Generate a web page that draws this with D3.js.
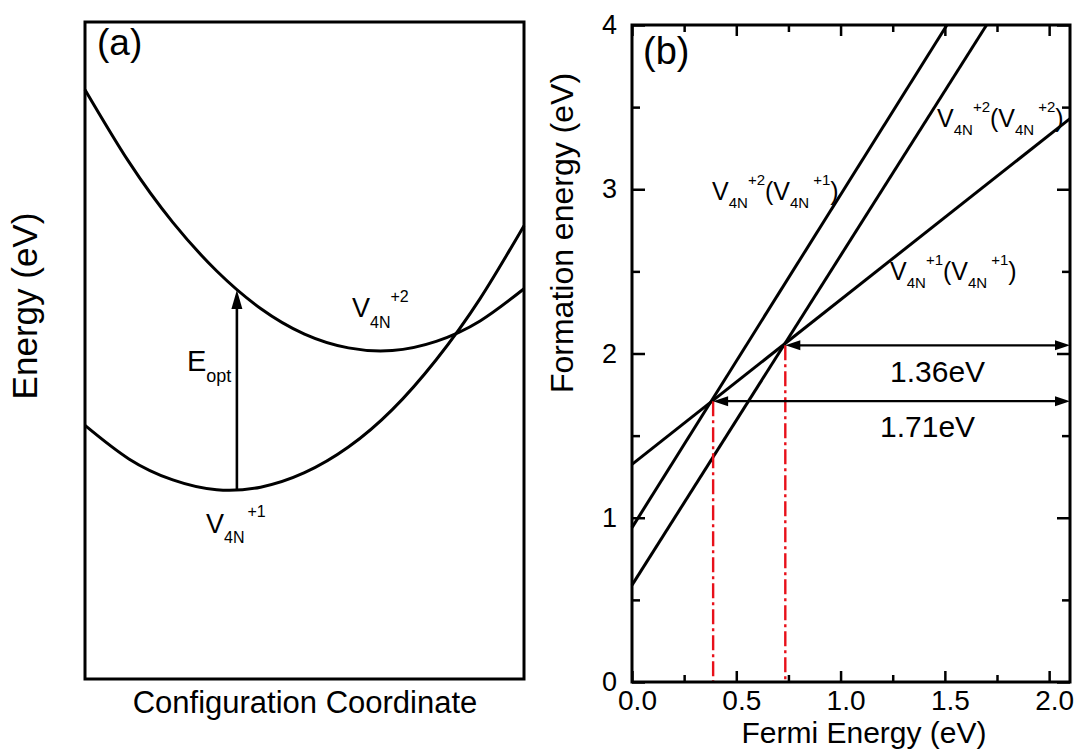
<!DOCTYPE html>
<html>
<head>
<meta charset="utf-8">
<script src="https://cdn.jsdelivr.net/npm/d3@7"></script>
<style>
  html, body { margin: 0; padding: 0; background: #fff; }
  svg { display: block; font-family: "Liberation Sans", Arial, sans-serif; }
</style>
</head>
<body>
<svg id="chart" width="1080" height="756"></svg>
<script>
// ---------- Panel (a): configuration coordinate diagram ----------
const coordA = [0, 1, 2, 3, 4, 5, 6, 7, 8, 9, 10];
const energyV1 = [3.86, 3.35, 3.03, 2.88, 2.92, 3.14, 3.53, 4.10, 4.86, 5.79, 6.90];
const energyV2 = [8.97, 7.87, 6.95, 6.21, 5.64, 5.25, 5.04, 5.00, 5.14, 5.45, 5.94];
const eoptCoord = [3.46];
const eoptEnergy = [2.88, 5.92];

// ---------- Panel (b): formation energy vs Fermi energy ----------
const fermiTicks = [0, 0.5, 1.0, 1.5, 2.0];
const fermiMinorTicks = [0.25, 0.75, 1.25, 1.75];
const formationTicks = [0, 1, 2, 3, 4];
const formationMinorTicks = [0.5, 1.5, 2.5, 3.5];
const fermiV1V1 = [0, 2.1];
const formV1V1 = [1.325, 3.43];
const fermiV2V1 = [0, 1.51];
const formV2V1 = [0.94, 4.0];
const fermiV2V2 = [0, 1.70];
const formV2V2 = [0.59, 4.0];
const transitionFermi = [0.389, 0.735];
const transitionForm = [1.71, 2.05];
const gapLabels = ["1.71eV", "1.36eV"];

const svg = d3.select("#chart");
svg.append("rect").attr("width", 1080).attr("height", 756).attr("fill", "#fff");

// ===== Panel (a) =====
const xa = d3.scaleLinear().domain([0, 10]).range([85, 524]);
const ya = d3.scaleLinear().domain([0, 10]).range([679, 22]);
const ga = svg.append("g");

const lineA = d3.line().x(d => xa(d[0])).y(d => ya(d[1])).curve(d3.curveNatural);
ga.append("path").datum(d3.zip(coordA, energyV1)).attr("d", lineA)
  .attr("fill", "none").attr("stroke", "#000").attr("stroke-width", 3);
ga.append("path").datum(d3.zip(coordA, energyV2)).attr("d", lineA)
  .attr("fill", "none").attr("stroke", "#000").attr("stroke-width", 3);

// E_opt arrow
const ax0 = xa(eoptCoord[0]), ay0 = ya(eoptEnergy[0]), ay1 = ya(eoptEnergy[1]);
ga.append("line").attr("x1", ax0).attr("x2", ax0).attr("y1", ay0).attr("y2", ay1 + 16)
  .attr("stroke", "#000").attr("stroke-width", 2.6);
ga.append("path").attr("d", `M${ax0},${ay1} L${ax0 - 5.5},${ay1 + 19} L${ax0 + 5.5},${ay1 + 19} Z`)
  .attr("fill", "#000");

ga.append("rect").attr("x", 85).attr("y", 22).attr("width", 439).attr("height", 657)
  .attr("fill", "none").attr("stroke", "#000").attr("stroke-width", 3);

ga.append("text").attr("x", 97).attr("y", 55).attr("font-size", 37).text("(a)");

function chargeLabel(g, x, y, big, small, sub, sup, subDy, supDy) {
  const t = g.append("text").attr("x", x).attr("y", y).attr("font-size", big);
  t.append("tspan").text("V");
  t.append("tspan").attr("font-size", small).attr("dy", subDy).text(sub);
  t.append("tspan").attr("font-size", small).attr("dy", supDy - subDy).text(sup);
  return t;
}
chargeLabel(ga, 352, 317, 27, 16, "4N", "+2", 11, -15);
chargeLabel(ga, 206, 533, 27, 16, "4N", "+1", 10, -16).select("tspan:nth-child(3)").attr("dx", 3);
{
  const t = ga.append("text").attr("x", 187).attr("y", 371).attr("font-size", 29);
  t.append("tspan").text("E");
  t.append("tspan").attr("font-size", 18).attr("dy", 11).text("opt");
}
ga.append("text").attr("x", 305).attr("y", 713).attr("font-size", 31)
  .attr("text-anchor", "middle").text("Configuration Coordinate");
ga.append("text").attr("transform", "translate(37,306) rotate(-90)").attr("font-size", 35)
  .attr("text-anchor", "middle").text("Energy (eV)");

// ===== Panel (b) =====
const xb = d3.scaleLinear().domain([0, 2.1]).range([632, 1070]);
const yb = d3.scaleLinear().domain([0, 4]).range([682, 25]);
const gb = svg.append("g");

function styleAxis(g) {
  g.select(".domain").remove();
  g.selectAll("line").attr("stroke", "#000").attr("stroke-width", 2.5);
  g.selectAll("text").attr("font-family", "Liberation Sans, Arial, sans-serif").attr("fill", "#000");
}
// bottom
gb.append("g").attr("transform", "translate(0,682)")
  .call(d3.axisBottom(xb).tickValues(fermiTicks).tickSize(-11).tickPadding(8).tickFormat(d3.format(".1f")))
  .call(styleAxis)
  .call(g => g.selectAll("text").attr("font-size", 28).attr("dx", 5));
gb.append("g").attr("transform", "translate(0,682)")
  .call(d3.axisBottom(xb).tickValues(fermiMinorTicks).tickSize(-7).tickFormat(""))
  .call(styleAxis);
// top
gb.append("g").attr("transform", "translate(0,25)")
  .call(d3.axisTop(xb).tickValues(fermiTicks).tickSize(-11).tickFormat(""))
  .call(styleAxis);
gb.append("g").attr("transform", "translate(0,25)")
  .call(d3.axisTop(xb).tickValues(fermiMinorTicks).tickSize(-7).tickFormat(""))
  .call(styleAxis);
// left
gb.append("g").attr("transform", "translate(632,0)")
  .call(d3.axisLeft(yb).tickValues(formationTicks).tickSize(-13).tickPadding(15).tickFormat(d3.format("d")))
  .call(styleAxis)
  .call(g => g.selectAll("text").attr("font-size", 27));
gb.append("g").attr("transform", "translate(632,0)")
  .call(d3.axisLeft(yb).tickValues(formationMinorTicks).tickSize(-8).tickFormat(""))
  .call(styleAxis);
// right
gb.append("g").attr("transform", "translate(1070,0)")
  .call(d3.axisRight(yb).tickValues(formationTicks).tickSize(-13).tickFormat(""))
  .call(styleAxis);
gb.append("g").attr("transform", "translate(1070,0)")
  .call(d3.axisRight(yb).tickValues(formationMinorTicks).tickSize(-8).tickFormat(""))
  .call(styleAxis);

// lines
const lineB = d3.line().x(d => xb(d[0])).y(d => yb(d[1]));
[[fermiV1V1, formV1V1], [fermiV2V1, formV2V1], [fermiV2V2, formV2V2]].forEach(([fx, fy]) => {
  gb.append("path").datum(d3.zip(fx, fy)).attr("d", lineB)
    .attr("fill", "none").attr("stroke", "#000").attr("stroke-width", 3);
});

// red dash-dot drop lines
transitionFermi.forEach((f, i) => {
  gb.append("line").attr("x1", xb(f)).attr("x2", xb(f))
    .attr("y1", yb(transitionForm[i])).attr("y2", yb(0))
    .attr("stroke", "#e8101a").attr("stroke-width", 2.4)
    .attr("stroke-dasharray", "15,4,3,4");
});

// double-headed arrows
transitionFermi.forEach((f, i) => {
  const xl = xb(f), xr = xb(2.1), y = yb(transitionForm[i]);
  gb.append("line").attr("x1", xl + 10).attr("x2", xr - 10).attr("y1", y).attr("y2", y)
    .attr("stroke", "#000").attr("stroke-width", 2.2);
  gb.append("path").attr("d", `M${xl},${y} L${xl + 15},${y - 5} L${xl + 15},${y + 5} Z`).attr("fill", "#000");
  gb.append("path").attr("d", `M${xr},${y} L${xr - 15},${y - 5} L${xr - 15},${y + 5} Z`).attr("fill", "#000");
});
gb.append("text").attr("x", 880).attr("y", 437).attr("font-size", 30).text(gapLabels[0]);
gb.append("text").attr("x", 890).attr("y", 382).attr("font-size", 30).text(gapLabels[1]);

// frame
gb.append("rect").attr("x", 632).attr("y", 25).attr("width", 438).attr("height", 657)
  .attr("fill", "none").attr("stroke", "#000").attr("stroke-width", 3);

gb.append("text").attr("x", 643).attr("y", 64).attr("font-size", 38).text("(b)");

function doubleLabel(g, x, y, subA, supA, subB, supB) {
  const t = g.append("text").attr("x", x).attr("y", y).attr("font-size", 25);
  t.append("tspan").text("V");
  t.append("tspan").attr("font-size", 15).attr("dy", 8).text(subA);
  t.append("tspan").attr("font-size", 15).attr("dy", -23).text(supA);
  t.append("tspan").attr("dy", 15).text("(V");
  t.append("tspan").attr("font-size", 15).attr("dy", 8).text(subB);
  t.append("tspan").attr("font-size", 15).attr("dy", -23).attr("dx", 4).text(supB);
  t.append("tspan").attr("dy", 15).text(")");
}
doubleLabel(gb, 712, 200, "4N", "+2", "4N", "+1");
doubleLabel(gb, 937, 127, "4N", "+2", "4N", "+2");
doubleLabel(gb, 890, 280, "4N", "+1", "4N", "+1");

gb.append("text").attr("x", 864).attr("y", 743).attr("font-size", 30)
  .attr("text-anchor", "middle").text("Fermi Energy (eV)");
gb.append("text").attr("transform", "translate(573,233) rotate(-90)").attr("font-size", 32)
  .attr("text-anchor", "middle").text("Formation energy (eV)");
</script>
</body>
</html>
